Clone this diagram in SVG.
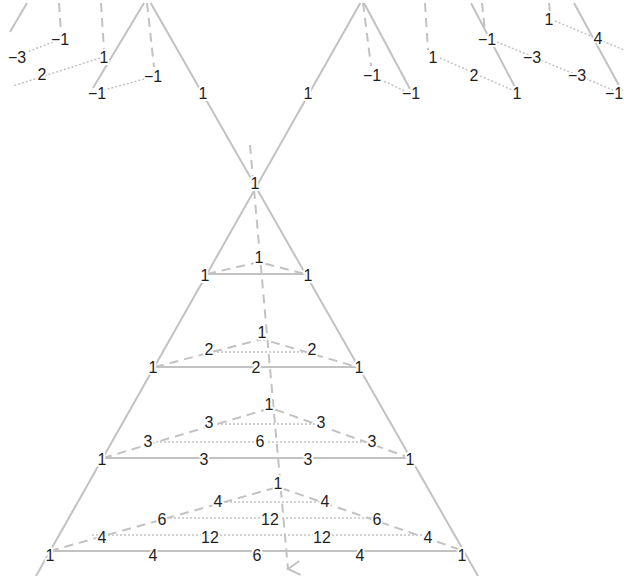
<svg xmlns="http://www.w3.org/2000/svg" width="624" height="576" viewBox="0 0 624 576">
<style>
.s{stroke:#c2c2c2;stroke-width:2;fill:none}
.d{stroke:#c2c2c2;stroke-width:2;fill:none;stroke-dasharray:9 6}
.o{stroke:#c2c2c2;stroke-width:1.5;fill:none;stroke-dasharray:2 2}
text{font-family:"Liberation Sans",Arial,sans-serif;font-size:16px;fill:#1e1e1e;text-anchor:middle;stroke:#fff;stroke-width:4;paint-order:stroke;stroke-linejoin:round}
</style>
<defs>
<marker id="arr" viewBox="0 0 16 16" refX="8" refY="14" markerWidth="16" markerHeight="16" markerUnits="userSpaceOnUse" orient="auto-start-reverse">
<path d="M1,2 L8,14 L15,2" fill="none" stroke="#c2c2c2" stroke-width="2"/>
</marker>
</defs>
<rect width="624" height="576" fill="#fff"/>
<g id="connectors">
<line class="s" x1="150.7" y1="3" x2="478" y2="576"/>
<line class="s" x1="360.3" y1="3" x2="36" y2="576"/>
<line class="s" x1="205" y1="274" x2="308" y2="274"/>
<line class="s" x1="155" y1="367" x2="357" y2="367"/>
<line class="s" x1="103" y1="458" x2="410" y2="458"/>
<line class="s" x1="50" y1="551" x2="464" y2="551"/>
<line class="s" x1="27" y1="3" x2="10" y2="32"/>
<line class="s" x1="144" y1="3" x2="93" y2="88"/>
<line class="s" x1="364" y1="3" x2="410" y2="89"/>
<line class="s" x1="471" y1="3" x2="516" y2="89"/>
<line class="s" x1="574" y1="3" x2="622" y2="91"/>
<path class="d" d="M250,145 L288,569" marker-end="url(#arr)"/>
<path class="d" d="M207,274 L259,262 L305,274"/>
<path class="d" d="M155,367 L262,339 L357,367"/>
<path class="d" d="M103,458 L271,408 L410,458"/>
<path class="d" d="M50,551 L278,487 L464,551"/>
<line class="d" x1="59" y1="3" x2="61" y2="33"/>
<line class="d" x1="101" y1="3" x2="104" y2="50"/>
<line class="d" x1="147" y1="3" x2="154" y2="67"/>
<line class="d" x1="363" y1="3" x2="371" y2="66"/>
<line class="d" x1="425" y1="3" x2="428" y2="50"/>
<line class="d" x1="482" y1="3" x2="485" y2="32"/>
<line class="d" x1="549" y1="3" x2="550" y2="12"/>
<line class="o" x1="53" y1="42" x2="22" y2="54"/>
<line class="o" x1="100" y1="58" x2="13" y2="86"/>
<line class="o" x1="148" y1="78" x2="100" y2="91"/>
<line class="o" x1="377" y1="78" x2="405" y2="91"/>
<line class="o" x1="440" y1="58" x2="512" y2="90"/>
<line class="o" x1="497" y1="42" x2="613" y2="90"/>
<line class="o" x1="555" y1="21" x2="624" y2="50"/>
<line class="o" x1="209" y1="352" x2="312" y2="352"/>
<line class="o" x1="209" y1="424" x2="321" y2="424"/>
<line class="o" x1="148" y1="442" x2="372" y2="442"/>
<line class="o" x1="218" y1="502" x2="325" y2="502"/>
<line class="o" x1="162" y1="518" x2="377" y2="518"/>
<line class="o" x1="92" y1="535" x2="428" y2="535"/>
</g>
<g id="n-tl1"><text x="60" y="44.7">−1</text></g>
<g id="n-tl2"><text x="17" y="62.7">−3</text></g>
<g id="n-tl3"><text x="104" y="62.7">1</text></g>
<g id="n-tl4"><text x="42" y="79.7">2</text></g>
<g id="n-tl5"><text x="97" y="98.7">−1</text></g>
<g id="n-tl6"><text x="153" y="81.7">−1</text></g>
<g id="n-tl7"><text x="203" y="98.7">1</text></g>
<g id="n-tm1"><text x="308" y="98.7">1</text></g>
<g id="n-tm2"><text x="372" y="80.7">−1</text></g>
<g id="n-tm3"><text x="411" y="98.7">−1</text></g>
<g id="n-tr1"><text x="433" y="62.7">1</text></g>
<g id="n-tr2"><text x="474" y="80.7">2</text></g>
<g id="n-tr3"><text x="517" y="98.7">1</text></g>
<g id="n-tr4"><text x="487" y="44.7">−1</text></g>
<g id="n-tr5"><text x="532" y="62.7">−3</text></g>
<g id="n-tr6"><text x="577" y="80.7">−3</text></g>
<g id="n-tr7"><text x="614" y="98.7">−1</text></g>
<g id="n-tr8"><text x="549" y="24.7">1</text></g>
<g id="n-tr9"><text x="598" y="43.7">4</text></g>
<g id="n-apex"><text x="255" y="188.7">1</text></g>
<g id="n-l1a"><text x="205" y="280.7">1</text></g>
<g id="n-l1b"><text x="308" y="280.7">1</text></g>
<g id="n-l1c"><text x="259" y="262.7">1</text></g>
<g id="n-l2a"><text x="262" y="337.7">1</text></g>
<g id="n-l2b"><text x="209" y="354.7">2</text></g>
<g id="n-l2c"><text x="312" y="354.7">2</text></g>
<g id="n-l2d"><text x="153" y="372.7">1</text></g>
<g id="n-l2e"><text x="256" y="372.7">2</text></g>
<g id="n-l2f"><text x="359" y="372.7">1</text></g>
<g id="n-l3a"><text x="269" y="409.7">1</text></g>
<g id="n-l3b"><text x="209" y="427.7">3</text></g>
<g id="n-l3c"><text x="321" y="427.7">3</text></g>
<g id="n-l3d"><text x="148" y="446.7">3</text></g>
<g id="n-l3e"><text x="260" y="446.7">6</text></g>
<g id="n-l3f"><text x="372" y="446.7">3</text></g>
<g id="n-l3g"><text x="102" y="464.7">1</text></g>
<g id="n-l3h"><text x="204" y="464.7">3</text></g>
<g id="n-l3i"><text x="308" y="464.7">3</text></g>
<g id="n-l3j"><text x="410" y="464.7">1</text></g>
<g id="n-l4a"><text x="278" y="488.7">1</text></g>
<g id="n-l4b"><text x="218" y="506.7">4</text></g>
<g id="n-l4c"><text x="325" y="506.7">4</text></g>
<g id="n-l4d"><text x="162" y="524.7">6</text></g>
<g id="n-l4e"><text x="270" y="524.7">12</text></g>
<g id="n-l4f"><text x="377" y="524.7">6</text></g>
<g id="n-l4g"><text x="102" y="542.7">4</text></g>
<g id="n-l4h"><text x="210" y="542.7">12</text></g>
<g id="n-l4i"><text x="322" y="542.7">12</text></g>
<g id="n-l4j"><text x="428" y="542.7">4</text></g>
<g id="n-l4k"><text x="50" y="560.7">1</text></g>
<g id="n-l4l"><text x="153" y="560.7">4</text></g>
<g id="n-l4m"><text x="257" y="560.7">6</text></g>
<g id="n-l4n"><text x="360" y="560.7">4</text></g>
<g id="n-l4o"><text x="462" y="560.7">1</text></g>
</svg>
